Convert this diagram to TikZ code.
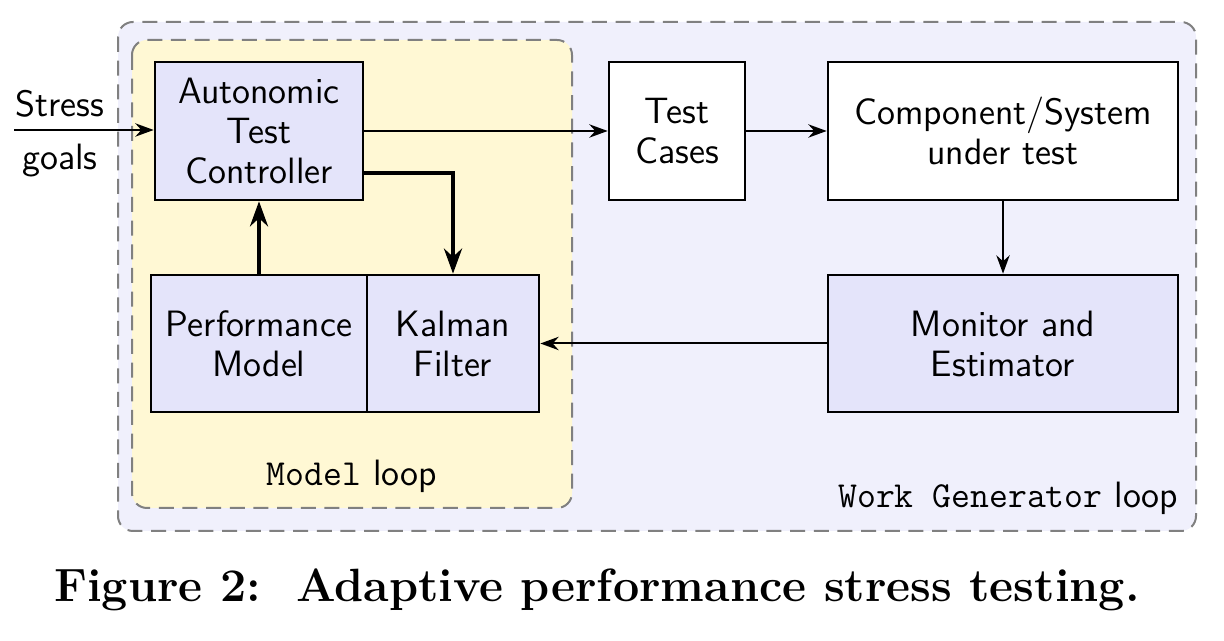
\documentclass[tikz,border=0pt]{standalone}
\usetikzlibrary{arrows.meta,positioning}
\definecolor{wgfill}{HTML}{F0F0FC}
\definecolor{mlfill}{HTML}{FFF8D4}
\definecolor{boxfill}{HTML}{E4E4FA}
\definecolor{dashgray}{HTML}{808080}
\begin{document}
\begin{tikzpicture}[x=0.3pt,y=-0.3pt,
  font=\sffamily\fontsize{11}{12}\selectfont,
  blk/.style={draw=black,line width=0.8pt,inner sep=0pt,align=center,fill=boxfill},
  wblk/.style={blk,fill=white},
  loopbox/.style={draw=dashgray,line width=0.6pt,dash pattern=on 4.5pt off 2.6pt,rounded corners=4.5pt},
  conn/.style={line width=0.6pt,-{Stealth[length=5.5pt,width=4pt]}},
  tconn/.style={line width=1.2pt,-{Stealth[length=7.5pt,width=5.4pt]}}]
\useasboundingbox (0,0) rectangle (1224,641);
% loops
\filldraw[loopbox,fill=wgfill] (118,22) rectangle (1196,531);
\filldraw[loopbox,fill=mlfill] (132,40) rectangle (572,508);
% blocks
\node[blk,minimum width=62.4pt,minimum height=41.4pt] (atc) at (259,131) {Autonomic\\Test\\Controller};
\node[blk,minimum width=64.8pt,minimum height=41.1pt] (pm) at (259,343.5) {Performance\\Model};
\node[blk,minimum width=51.6pt,minimum height=41.1pt] (kf) at (453,343.5) {Kalman\\Filter};
\node[wblk,minimum width=40.8pt,minimum height=41.4pt] (tc) at (677,131) {Test\\Cases};
\node[wblk,minimum width=105pt,minimum height=41.4pt] (cs) at (1003,131) {Component/System\\under test};
\node[blk,minimum width=105pt,minimum height=41.1pt] (me) at (1003,343.5) {Monitor and\\Estimator};
% input
\coordinate (in) at (14,130);
\node (stress) at (60,104) {Stress};
\node (goals) at (60,161) {goals};
% labels
\node (ml) at (352,476) {\texttt{Model} loop};
\node[anchor=east,inner sep=0pt] (wg) at (1179,498) {\texttt{Work Generator} loop};
\node[font=\rmfamily\bfseries\fontsize{14}{16}\selectfont] (cap) at (597,590) {Figure 2:\ \ Adaptive performance stress testing.};
% connectors
\draw[conn] (in) -- (in -| atc.west);
\draw[conn] (atc.east |- tc.west) -- (tc.west);
\draw[conn] (tc.east) -- (cs.west);
\draw[conn] (cs.south) -- (me.north);
\draw[conn] (me.west) -- (kf.east);
\draw[tconn] ([yshift=-12.6pt]atc.east) -| (kf.north);
\draw[tconn] (pm.north) -- (atc.south);
\end{tikzpicture}
\end{document}
